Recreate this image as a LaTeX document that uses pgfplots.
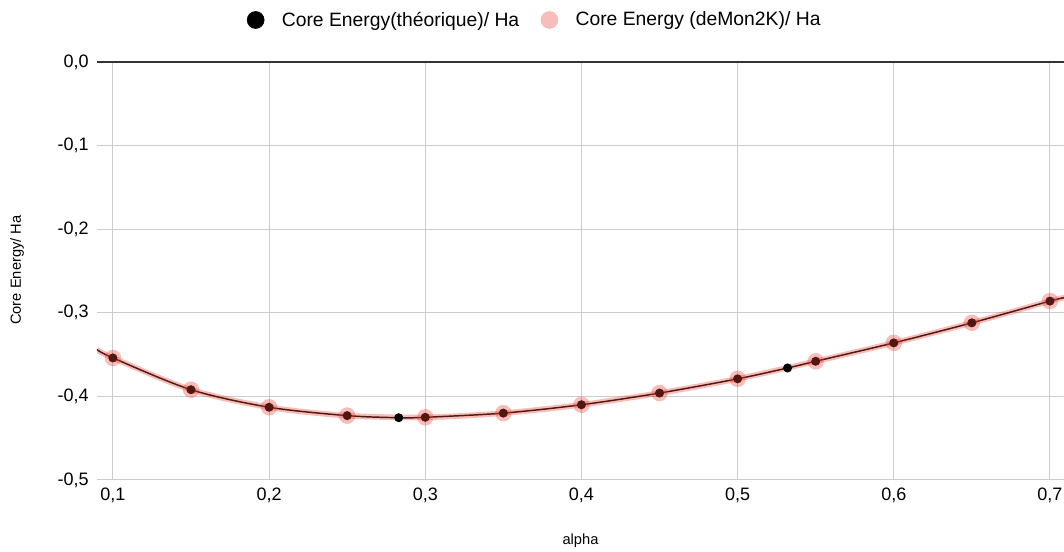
\documentclass[border=0pt]{standalone}
\usepackage{fontspec}
\setmainfont{Liberation Sans}
\usepackage{pgfplots}
\pgfplotsset{compat=1.18}
\definecolor{gridgray}{HTML}{CCCCCC}
\definecolor{sheetred}{HTML}{EA4335}
\definecolor{pinkleg}{HTML}{F8BDB8}
\definecolor{zeroline}{HTML}{333333}

\begin{document}
\begin{tikzpicture}
\path[use as bounding box] (0,0) rectangle (798pt,414pt);
\begin{axis}[
  scale only axis, width=725.25pt, height=313.5pt,
  at={(72.75pt,54pt)}, anchor=south west,
  xmin=0.0898, xmax=0.709, ymin=-0.5, ymax=0,
  xtick={0.1,0.2,0.3,0.4,0.5,0.6,0.7},
  ytick={-0.5,-0.4,-0.3,-0.2,-0.1,0},
  extra y ticks={0}, extra y tick labels={},
  extra y tick style={grid style={zeroline, line width=1pt}},
  axis line style={draw=none}, major tick style={draw=none},
  grid=major, grid style={gridgray, line width=0.75pt},
  /pgf/number format/.cd, use comma, fixed, fixed zerofill, precision=1, assume math mode=true,
  /pgfplots/.cd,
  xticklabel shift=6pt, yticklabel shift=6pt,
  tick label style={font=\fontsize{13.5}{16}\selectfont, inner sep=0pt},
  xlabel={alpha}, ylabel={Core Energy/ Ha},
  label style={font=\fontsize{11}{13}\selectfont},
  xlabel style={at={(axis description cs:0.5,-0.146)}, anchor=center},
  ylabel style={at={(axis description cs:-0.0827,0.502)}, anchor=center},
  legend style={at={(axis description cs:0.453,1.1005)}, anchor=center,
    draw=none, fill=none, legend columns=2, inner sep=0pt,
    font=\fontsize{14.5}{17}\selectfont,
    /tikz/every even column/.append style={column sep=14pt}},
  legend cell align=left,
]
% Core Energy (theorique): line
\addplot[black, line width=1.1pt, smooth, forget plot] coordinates {
(0.0898,-0.344) (0.1,-0.354) (0.15,-0.392) (0.2,-0.413) (0.25,-0.423)
(0.283,-0.4255) (0.3,-0.425) (0.35,-0.420) (0.4,-0.410) (0.45,-0.396)
(0.5,-0.379) (0.532,-0.366) (0.55,-0.358) (0.6,-0.336) (0.65,-0.312)
(0.7,-0.286) (0.709,-0.282)};
% Core Energy (theorique): points
\addplot[only marks, mark=*, mark size=3.4pt,
  mark options={fill=black, draw opacity=0},
  legend image code/.code={\path[draw=none, fill=none] (0pt,0pt) -- (24pt,0pt); \fill[black] (6.4pt,0pt) circle (6.4pt);}]
coordinates {
(0.1,-0.354) (0.15,-0.392) (0.2,-0.413) (0.25,-0.423)
(0.283,-0.4255) (0.3,-0.425) (0.35,-0.420) (0.4,-0.410) (0.45,-0.396)
(0.5,-0.379) (0.532,-0.366) (0.55,-0.358) (0.6,-0.336) (0.65,-0.312)
(0.7,-0.286)};
\addlegendentry{Core Energy(théorique)/ Ha}
% Core Energy (deMon2K): line
\addplot[sheetred, opacity=0.35, line width=4.2pt, smooth, forget plot] coordinates {
(0.0898,-0.344) (0.1,-0.354) (0.15,-0.392) (0.2,-0.413) (0.25,-0.423)
(0.3,-0.425) (0.35,-0.420) (0.4,-0.410) (0.45,-0.396) (0.5,-0.379)
(0.55,-0.358) (0.6,-0.336) (0.65,-0.312) (0.7,-0.286) (0.709,-0.282)};
% Core Energy (deMon2K): points
\addplot[only marks, mark=*, mark size=6.2pt,
  mark options={fill=sheetred, fill opacity=0.35, draw opacity=0},
  legend image code/.code={\path[draw=none, fill=none] (0pt,0pt) -- (24pt,0pt); \fill[pinkleg] (6.4pt,0pt) circle (6.4pt);}]
coordinates {
(0.1,-0.354) (0.15,-0.392) (0.2,-0.413) (0.25,-0.423) (0.3,-0.425)
(0.35,-0.420) (0.4,-0.410) (0.45,-0.396) (0.5,-0.379) (0.55,-0.358)
(0.6,-0.336) (0.65,-0.312) (0.7,-0.286)};
\addlegendentry{Core Energy (deMon2K)/ Ha}
\end{axis}
\end{tikzpicture}
\end{document}
